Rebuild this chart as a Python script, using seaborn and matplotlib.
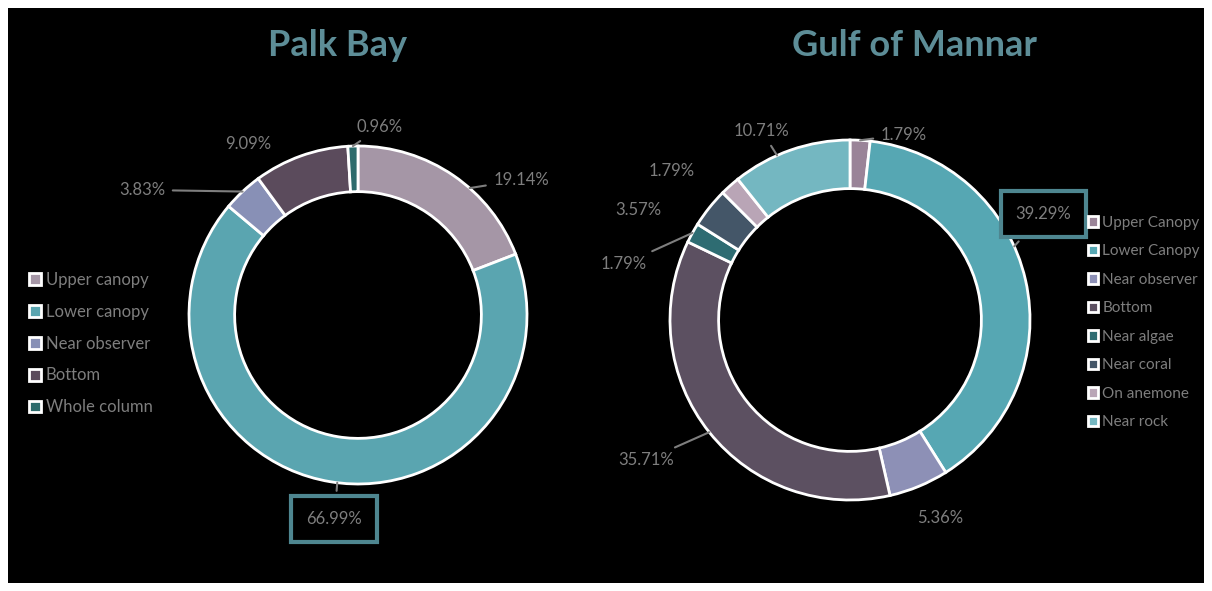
import numpy as np
import pandas as pd
import matplotlib.pyplot as plt
import seaborn as sns

# ── DATA ───────────────────────────────────────────────
palk_labels = ['Upper canopy', 'Lower canopy', 'Near observer', 'Bottom', 'Whole column']
palk_values = [19.14, 66.99, 3.83, 9.09, 0.96]
palk_colors = ['#a596a6', '#5aa5b0', '#8890b6', '#5b4b5c', '#2d6b6c']

gom_labels = ['Upper Canopy', 'Lower Canopy', 'Near observer', 'Bottom',
              'Near algae', 'Near coral', 'On anemone', 'Near rock']
gom_values = [1.79, 39.29, 5.36, 35.71, 1.79, 3.57, 1.79, 10.71]
gom_colors = ['#9a8498', '#56a7b3', '#8d90b6', '#5c5061',
              '#2e6c72', '#445668', '#b9a5b6', '#74b7c1']

palk = pd.DataFrame({'zone': palk_labels, 'pct': palk_values})
gom = pd.DataFrame({'zone': gom_labels, 'pct': gom_values})

# ── STYLE ──────────────────────────────────────────────
sns.set_theme(style='dark')
plt.rcParams['font.family'] = ['Lato', 'DejaVu Sans']
TXT = '#7e7e7e'
TITLE = '#5d8d97'
BOXC = '#4e8690'

W, H = 1212, 591
fig = plt.figure(figsize=(W / 100, H / 100), dpi=100, facecolor='white')
bg = fig.add_axes([8 / W, 8 / H, (W - 16) / W, (H - 16) / H])
bg.set_facecolor('black')
bg.set_xticks([])
bg.set_yticks([])
for s in bg.spines.values():
    s.set_visible(False)

LIM = 1.5


def pie_axes(cx, cy, r):
    size = 2 * LIM * r
    return fig.add_axes([(cx - size / 2) / W, (H - cy - size / 2) / H, size / W, size / H])


def edge_point(df, i, frac=0.5):
    start = df['pct'].iloc[:i].sum() / df['pct'].sum() * 360
    span = df['pct'].iloc[i] / df['pct'].sum() * 360
    a = np.deg2rad(90 - (start + frac * span))
    return np.cos(a), np.sin(a)


def draw(ax, df, colors, labels_layout):
    wedges, _ = ax.pie(df['pct'], colors=colors, startangle=90, counterclock=False,
                       radius=1, wedgeprops=dict(width=0.27, edgecolor='white', linewidth=2))
    # pie() resets the limits, so set them afterwards
    ax.set_xlim(-LIM, LIM)
    ax.set_ylim(-LIM, LIM)
    ax.set_aspect('equal')
    ax.axis('off')
    for i, (pos, frac, ha, box) in enumerate(labels_layout):
        txt = f"{df['pct'].iloc[i]:.2f}%"
        kw = dict(color=TXT, fontsize=12, ha=ha, va='center', annotation_clip=False)
        if box:
            kw['bbox'] = dict(boxstyle='square,pad=0.9', fc='black', ec=BOXC, lw=3)
        if frac is None:
            ax.annotate(txt, xy=pos, **kw)
        else:
            ax.annotate(txt, xy=edge_point(df, i, frac), xytext=pos,
                        arrowprops=dict(arrowstyle='-', color=TXT, lw=1.5,
                                        shrinkA=3, shrinkB=0), **kw)
    return wedges


# ── PALK BAY ───────────────────────────────────────────
ax1 = pie_axes(358, 315, 169)
palk_layout = [
    ((0.80, 0.80), 0.6, 'left', False),
    ((-0.14, -1.21), 0.49, 'center', True),
    ((-1.14, 0.74), 0.5, 'right', False),
    ((-0.65, 1.01), None, 'center', False),
    ((0.13, 1.11), 0.5, 'center', False),
]
w1 = draw(ax1, palk, palk_colors, palk_layout)
fig.text(338 / W, 1 - 46 / H, 'Palk Bay', color=TITLE, fontsize=26,
         fontweight='bold', ha='center', va='center')
fig.legend(w1, palk_labels, loc='upper left', bbox_to_anchor=(14 / W, 1 - 257 / H),
           frameon=False, labelcolor=TXT, fontsize=12, handlelength=0.7,
           handleheight=0.7, handletextpad=0.3, labelspacing=0.95)

# ── GULF OF MANNAR ─────────────────────────────────────
ax2 = pie_axes(850, 320, 180)
gom_layout = [
    ((0.17, 1.03), 0.5, 'left', False),
    ((0.92, 0.59), 0.42, 'left', True),
    ((0.50, -1.10), None, 'center', False),
    ((-0.98, -0.78), 0.5, 'right', False),
    ((-1.13, 0.31), 0.5, 'right', False),
    ((-1.05, 0.61), None, 'right', False),
    ((-0.86, 0.83), None, 'right', False),
    ((-0.49, 1.05), 0.38, 'center', False),
]
w2 = draw(ax2, gom, gom_colors, gom_layout)
fig.text(914 / W, 1 - 46 / H, 'Gulf of Mannar', color=TITLE, fontsize=26,
         fontweight='bold', ha='center', va='center')
fig.legend(w2, gom_labels, loc='upper left', bbox_to_anchor=(1074 / W, 1 - 202 / H),
           frameon=False, labelcolor=TXT, fontsize=11, handlelength=0.7,
           handleheight=0.7, handletextpad=0.25, labelspacing=0.95)

plt.savefig('out.png', dpi=100, facecolor=fig.get_facecolor())
